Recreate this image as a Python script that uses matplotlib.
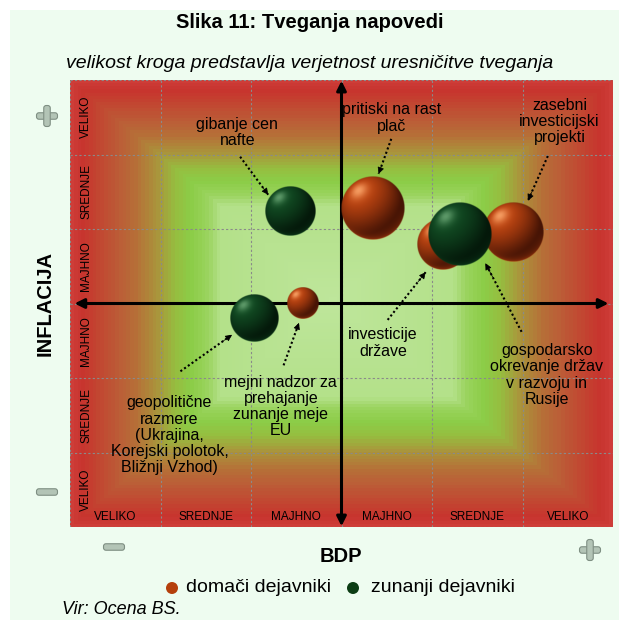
import numpy as np
import matplotlib
matplotlib.use("Agg")
import matplotlib.pyplot as plt
from matplotlib.patches import Rectangle, FancyBboxPatch, Circle
from matplotlib.colors import LinearSegmentedColormap

plt.rcParams['font.family'] = ['Liberation Sans', 'DejaVu Sans']

# risks: position on the GDP / inflation grid, bubble radius (px), origin
risk_names = ["gibanje cen\nnafte",
              "pritiski na rast\nplač",
              "investicije\ndržave",
              "gospodarsko\nokrevanje držav\nv razvoju in\nRusije",
              "zasebni\ninvesticijski\nprojekti",
              "geopolitične\nrazmere\n(Ukrajina,\nKorejski polotok,\nBližnji Vzhod)",
              "mejni nadzor za\nprehajanje\nzunanje meje\nEU"]
risk_bdp = [-0.57, 0.35, 1.12, 1.31, 1.90, -0.97, -0.42]
risk_infl = [1.24, 1.28, 0.80, 0.93, 0.96, -0.19, 0.00]
risk_size = [25, 32, 26, 32, 30, 24, 16]
risk_origin = ["zunanji", "domači", "domači", "zunanji", "domači", "zunanji", "domači"]

row_labels = ["VELIKO", "SREDNJE", "MAJHNO", "MAJHNO", "SREDNJE", "VELIKO"]
col_labels = ["VELIKO", "SREDNJE", "MAJHNO", "MAJHNO", "SREDNJE", "VELIKO"]

# label text centre and dotted arrow (start, end) for each risk
label_pos = [(-1.15, 2.30), (0.55, 2.49), (0.46, -0.53), (2.27, -0.96),
             (2.41, 2.44), (-1.90, -1.77), (-0.67, -1.38)]
arrow_seg = [((-1.12, 1.97), (-0.81, 1.46)),
             ((0.55, 2.21), (0.41, 1.74)),
             ((0.51, -0.22), (0.93, 0.42)),
             ((1.99, -0.38), (1.59, 0.54)),
             ((2.28, 1.98), (2.06, 1.38)),
             ((-1.78, -0.91), (-1.21, -0.42)),
             ((-0.64, -0.83), (-0.47, -0.26))]

ball_cols = {"domači": [(70, 20, 5), (198, 72, 18), (255, 175, 115)],
             "zunanji": [(4, 24, 10), (18, 78, 36), (110, 170, 120)]}

W, H, DPI = 619, 620, 100
fig = plt.figure(figsize=(W / DPI, H / DPI), dpi=DPI)
fig.patch.set_facecolor("white")
fig.patches.append(Rectangle((10 / W, 0), 1, 1 - 10 / H, transform=fig.transFigure,
                             facecolor="#eefcf0", edgecolor="none", zorder=-5))

L, R, T, B = 70, 613, 80, 527
ax = fig.add_axes([L / W, 1 - B / H, (R - L) / W, (B - T) / H])
ax.set_xlim(-3, 3)
ax.set_ylim(-3, 3)
ax.axis("off")

# background: rectangular gradient, pale green in the middle, red on the edges
nx, ny = 543, 447
px = np.arange(nx) + L + 0.5
py = np.arange(ny) + T + 0.5
PX, PY = np.meshgrid(px, py)
cx, cy = 333.0, 300.0
u = np.where(PX < cx, (cx - PX) / (cx - L), (PX - cx) / (R - cx))
v = np.where(PY < cy, (cy - PY) / (cy - T), (PY - cy) / (B - cy))
d = np.maximum(u, v)
d = np.floor(d * 70) / 70
stops = [(0.0, (190, 230, 155)), (0.42, (180, 225, 138)), (0.47, (155, 212, 95)),
         (0.53, (140, 205, 72)), (0.59, (150, 190, 64)), (0.66, (170, 150, 60)),
         (0.74, (182, 112, 56)), (0.80, (187, 95, 55)), (0.88, (194, 72, 50)),
         (0.95, (200, 52, 46)), (1.0, (208, 64, 60))]
bg_cmap = LinearSegmentedColormap.from_list(
    "bg", [(s, tuple(c / 255 for c in col)) for s, col in stops])
ax.imshow(bg_cmap(np.clip(d, 0, 1)), extent=[-3, 3, -3, 3], origin="upper",
          aspect="auto", interpolation="bilinear", zorder=0)

for g in range(-3, 4):
    ax.plot([g, g], [-3, 3], color="#8a8a8a", lw=0.8, ls=(0, (2, 2)), zorder=1)
    ax.plot([-3, 3], [g, g], color="#8a8a8a", lw=0.8, ls=(0, (2, 2)), zorder=1)

# row / column level labels
for i, lab in enumerate(row_labels):
    ax.text(-2.82, 2.5 - i, lab, rotation=90, ha="center", va="center", fontsize=8.5, zorder=3)
for i, lab in enumerate(col_labels):
    ax.text(-2.5 + i, -2.87, lab, ha="center", va="center", fontsize=8.5, zorder=3)

# axis arrows
ax.annotate("", xy=(-2.95, 0), xytext=(2.95, 0),
            arrowprops=dict(arrowstyle="<|-|>", lw=2.2, color="k", mutation_scale=14,
                            shrinkA=0, shrinkB=0), zorder=4)
ax.annotate("", xy=(0, 2.99), xytext=(0, -2.99),
            arrowprops=dict(arrowstyle="<|-|>", lw=2.2, color="k", mutation_scale=14,
                            shrinkA=0, shrinkB=0), zorder=4)

# shaded balls
sx = (R - L) / 6.0
sy = (B - T) / 6.0
n = 160
g1 = np.linspace(-1, 1, n)
gx, gy = np.meshgrid(g1, -g1)
rr = np.sqrt(gx ** 2 + gy ** 2)
nz = np.sqrt(np.clip(1 - rr ** 2, 0, 1))
light = np.array([-0.45, 0.55, 0.7])
light = light / np.linalg.norm(light)
diff = np.clip(gx * light[0] + gy * light[1] + nz * light[2], 0, 1)
spec = diff ** 25
rim = np.clip(-gy, 0, 1) * (1 - nz) ** 2
alpha = np.clip((1 - rr) * n / 2.5, 0, 1)


def ball_image(cols):
    dark, mid, hi = [np.array(c) / 255.0 for c in cols]
    img = np.zeros((n, n, 4))
    base = dark + (mid - dark) * (diff ** 1.3)[..., None]
    base = base + (hi - base) * (0.8 * spec)[..., None]
    base = base + (mid * 1.3 - base) * (0.6 * rim)[..., None]
    img[..., :3] = np.clip(base, 0, 1)
    img[..., 3] = alpha
    return img


order = sorted(range(len(risk_names)), key=lambda k: risk_origin[k] == "zunanji")
for k in order:
    rx = risk_size[k] / sx
    ry = risk_size[k] / sy
    x0, y0 = risk_bdp[k], risk_infl[k]
    ax.imshow(ball_image(ball_cols[risk_origin[k]]),
              extent=[x0 - rx, x0 + rx, y0 - ry, y0 + ry],
              aspect="auto", interpolation="bilinear", zorder=5)

# risk labels with dotted pointers
for k, name in enumerate(risk_names):
    ax.text(label_pos[k][0], label_pos[k][1], name, ha="center", va="center",
            fontsize=11.5, linespacing=1.1, zorder=6)
    (x1, y1), (x2, y2) = arrow_seg[k]
    ax.plot([x1, x2], [y1, y2], color="k", lw=1.5, ls=(0, (1, 1.2)), zorder=6)
    fx = x1 + (x2 - x1) * 0.8
    fy = y1 + (y2 - y1) * 0.8
    ax.annotate("", xy=(x2, y2), xytext=(fx, fy),
                arrowprops=dict(arrowstyle="-|>", lw=0.5, color="k",
                                mutation_scale=10, shrinkA=0, shrinkB=0), zorder=6)

ax.set_xlim(-3, 3)
ax.set_ylim(-3, 3)

# titles and axis names
fig.text(0.5, 1 - 22 / H, "Slika 11: Tveganja napovedi", ha="center", va="center",
         fontsize=14.5, fontweight="bold")
fig.text(0.5, 1 - 63 / H, "velikost kroga predstavlja verjetnost uresničitve tveganja",
         ha="center", va="center", fontsize=14, style="italic")
fig.text(45 / W, 1 - 304 / H, "INFLACIJA", rotation=90, ha="center", va="center",
         fontsize=14.5, fontweight="bold")
fig.text(341 / W, 1 - 556 / H, "BDP", ha="center", va="center",
         fontsize=14.5, fontweight="bold")


# plus / minus signs
def bar(xc, yc, w, h):
    fig.patches.append(FancyBboxPatch((xc - w / 2, yc - h / 2), w, h,
                                      boxstyle="round,pad=0,rounding_size=2.5",
                                      transform=None, facecolor="#b3c4b6",
                                      edgecolor="#7f8f83", lw=0.8, zorder=3))


for (xc, yc, plus) in [(47, 116, True), (590, 550, True), (47, 492, False), (114, 547, False)]:
    yf = H - yc
    bar(xc, yf, 21, 6.5)
    if plus:
        bar(xc, yf, 6.5, 21)

# legend
fig.patches.append(Circle((172, H - 588), 6, transform=None, facecolor="#b5400c",
                          edgecolor="none"))
fig.patches.append(Circle((353, H - 588), 6, transform=None, facecolor="#0c3d14",
                          edgecolor="none"))
fig.text(186 / W, 1 - 588 / H, "domači dejavniki", ha="left", va="center", fontsize=14)
fig.text(371 / W, 1 - 588 / H, "zunanji dejavniki", ha="left", va="center", fontsize=14)
fig.text(62 / W, 1 - 610 / H, "Vir: Ocena BS.", ha="left", va="center",
         fontsize=13, style="italic")

fig.savefig("out.png", dpi=DPI, facecolor=fig.get_facecolor())
